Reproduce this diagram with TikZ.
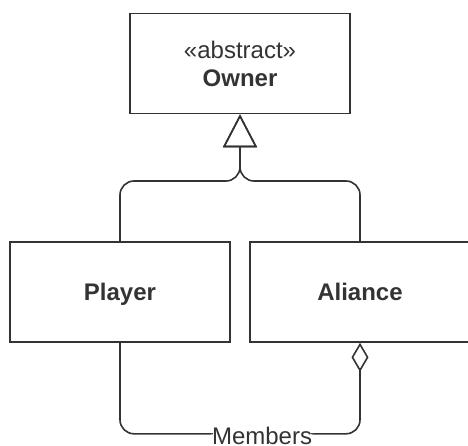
\documentclass[tikz,border=0pt]{standalone}
\usepackage{fontspec}
\setmainfont{Liberation Sans}
\usetikzlibrary{arrows.meta}
\definecolor{umlline}{rgb}{0.2,0.2,0.2}
\tikzset{
  umlclass/.style={draw=umlline, line width=1.6pt, minimum width=220pt, minimum height=100pt,
    inner sep=0pt, align=center, text=umlline, font=\fontsize{24}{28}\selectfont},
  oneline/.style={text height=17pt, text depth=0pt},
  umledge/.style={draw=umlline, line width=1.6pt, rounded corners=14pt},
  umllabel/.style={fill=white, inner sep=1pt, text=umlline, font=\fontsize{24}{28}\selectfont},
}
\begin{document}
\begin{tikzpicture}[x=1pt, y=-1pt]
  \useasboundingbox (0,0) rectangle (468,446);
  % classes
  \node[umlclass] (owner) at (240,63.5) {«abstract»\\\textbf{Owner}};
  \node[umlclass, oneline] (player) at (120,292) {\textbf{Player}};
  \node[umlclass, oneline] (aliance) at (360,292) {\textbf{Aliance}};
  \coordinate (join) at (240,181);
  % generalization
  \draw[umledge, -{Triangle[open, length=33pt, width=34pt]}] (player.north) |- (join) -- (owner.south);
  \draw[umledge, -{Triangle[open, length=33pt, width=34pt]}] (aliance.north) |- (join) -- (owner.south);
  % aggregation
  \draw[umledge, -{Diamond[open, length=29pt, width=17pt]}] (player.south) -- ++(0,91)
    -| node[umllabel, pos=0.296, yshift=-2.5pt] (members) {Members} (aliance.south);
\end{tikzpicture}
\end{document}
